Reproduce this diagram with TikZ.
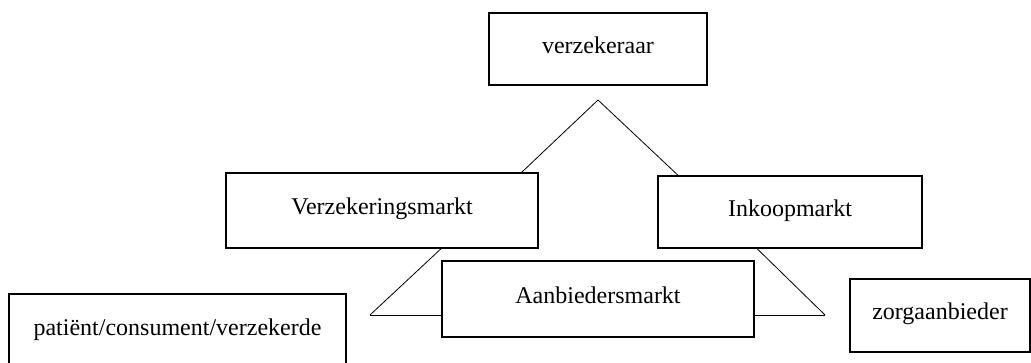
\documentclass[tikz,border=0pt]{standalone}
\usepackage{fontspec}
\setmainfont{Liberation Serif}
\usetikzlibrary{backgrounds}

\begin{document}
\begin{tikzpicture}[x=0.5pt,y=-0.5pt,line width=.75pt,
markt/.style={rectangle, draw, fill=white, line width=1.1pt, inner sep=0pt,
text height=8.2pt, text depth=3.8pt, font=\fontsize{12}{14}\selectfont}]
\useasboundingbox (0,0) rectangle (1031,363);

\node[markt, minimum width=109pt, minimum height=36pt] (ins) at (598,49) {verzekeraar};
\node[markt, minimum width=156pt, minimum height=37.5pt] (vm) at (382,210.5) {Verzekeringsmarkt};
\node[markt, minimum width=132pt, minimum height=36pt] (im) at (790,212) {Inkoopmarkt};
\node[markt, minimum width=156pt, minimum height=38pt] (am) at (598,299) {Aanbiedersmarkt};
\node[markt, minimum width=168.5pt, minimum height=37pt] (pat) at (177.5,331) {patiënt/consument/verzekerde};
\node[markt, minimum width=90pt, minimum height=36.5pt] (zorg) at (940,315.5) {zorgaanbieder};

\coordinate (top) at (598,100);
\coordinate (lowL) at (370,315);
\coordinate (lowR) at (825,315);

\begin{scope}[on background layer]
\draw (top) -- ++(-95,90);
\draw (top) -- ++(102,96);
\draw (lowL) -- ++(90,-84);
\draw (lowL) -- (lowL -| am);
\draw (lowR) -- ++(-84,-82);
\draw (lowR) -- (lowR -| am);
\end{scope}
\end{tikzpicture}
\end{document}
